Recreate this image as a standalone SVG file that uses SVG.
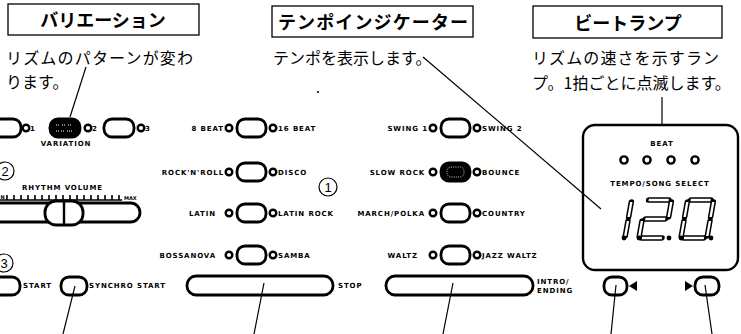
<svg xmlns="http://www.w3.org/2000/svg" width="741" height="334" viewBox="0 0 741 334">
<style>
.title{font-family:"Noto Sans CJK JP","Noto Sans",sans-serif;font-weight:700;font-size:18px;fill:#000}
.desc{font-family:"Noto Sans CJK JP","Noto Sans",sans-serif;font-size:16px;fill:#000}
.box{fill:#fff;stroke:#000;stroke-width:1.3}
.lb{font-family:"DejaVu Sans",sans-serif;font-weight:700;font-size:7px;letter-spacing:0.9px;fill:#000}
.tiny{font-family:"DejaVu Sans",sans-serif;font-weight:700;font-size:5px;fill:#000}
.pill{fill:#fff;stroke:#000;stroke-width:2.8}
.pillk{fill:#000;stroke:#000;stroke-width:2.8}
.led{fill:#fff;stroke:#000;stroke-width:2.4}
.lead{stroke:#000;stroke-width:1.2;fill:none}
.cnum{fill:#fff;stroke:#000;stroke-width:1.2}
.num{font-family:"Liberation Sans",sans-serif;font-size:13px;fill:#000}
.segB{fill:none;stroke:#000;stroke-width:5.5;stroke-linecap:round}
.segW{fill:none;stroke:#fff;stroke-width:2.4;stroke-linecap:butt}
</style>
<defs>
<path id="dig1" d="M26,4 L26,19 M26,23 L26,38"/>
<path id="dig2" d="M3,2 L23,2 M26,4 L26,19 M3,21 L23,21 M0,23 L0,38 M3,40 L23,40"/>
<path id="dig0" d="M3,2 L23,2 M26,4 L26,19 M26,23 L26,38 M3,40 L23,40 M0,23 L0,38 M0,4 L0,19"/>
</defs>
<rect width="741" height="334" fill="#fff"/>

<g id="hdr-variation">
<rect class="box" x="8" y="4" width="191" height="31"/>
<text class="title" x="103" y="27" text-anchor="middle">バリエーション</text>
<text class="desc" x="6" y="64" font-size="17" textLength="187">リズムのパターンが変わ</text>
<text class="desc" x="6" y="88" font-size="17">ります。</text>
</g>

<g id="hdr-tempo">
<rect class="box" x="272" y="6" width="201" height="31"/>
<text class="title" x="373" y="29" text-anchor="middle" font-size="19" textLength="190">テンポインジケーター</text>
<text class="desc" x="273" y="64" font-size="15.5">テンポを表示します。</text>
<circle cx="318" cy="92" r="1" fill="#000"/>
</g>

<g id="hdr-beat">
<rect class="box" x="533" y="6" width="189" height="32"/>
<text class="title" x="628" y="30" text-anchor="middle">ビートランプ</text>
<text class="desc" x="532" y="64" font-size="17" textLength="187">リズムの速さを示すラン</text>
<text class="desc" x="532" y="89" font-size="17">プ。1拍ごとに点滅します。</text>
</g>

<g id="variation">
<rect class="pill" x="-12" y="119" width="33" height="18" rx="8"/>
<circle class="led" cx="26" cy="128" r="3.3"/>
<text class="lb" x="30" y="131">1</text>
<rect class="pillk" x="50" y="119" width="30" height="18" rx="8"/>
<path d="M56,125 h4 M62,125 h4 M68,125 h3 M56,131 h3 M61,131 h4 M67,131 h5" stroke="#fff" stroke-width="1" stroke-dasharray="1 1"/>
<circle class="led" cx="88" cy="128" r="3.3"/>
<text class="lb" x="92" y="131">2</text>
<rect class="pill" x="104" y="119" width="30" height="18" rx="8"/>
<circle class="led" cx="141" cy="128" r="3.3"/>
<text class="lb" x="145" y="131">3</text>
<text class="lb" x="66" y="146" text-anchor="middle" letter-spacing="1.8">VARIATION</text>
</g>

<g id="volume">
<circle class="cnum" cx="5" cy="171" r="9"/>
<text class="num" x="5" y="176" text-anchor="middle">2</text>
<text class="lb" x="22" y="190" letter-spacing="2">RHYTHM VOLUME</text>
<text class="tiny" x="0.5" y="199">N</text>
<path d="M0,200 H122 M7,195v5 M14,195v5 M21,195v5 M28,195v5 M35,195v5 M42,195v5 M49,195v5 M56,195v5 M63,195v5 M70,195v5 M77,195v5 M84,195v5 M91,195v5 M98,195v5 M105,195v5 M112,195v5 M119,195v5" stroke="#000" stroke-width="1.6" fill="none"/>
<text class="tiny" x="124" y="200">MAX</text>
<rect class="pill" x="-20" y="203" width="160" height="19" rx="9.5"/>
<rect class="pill" x="45" y="201" width="38" height="24" rx="11"/>
<path d="M64,201 V225" stroke="#000" stroke-width="2.4"/>
</g>

<g id="rhythm-mid">
<text class="lb" x="224" y="131" text-anchor="end">8 BEAT</text>
<circle class="led" cx="229" cy="128" r="3.3"/>
<rect class="pill" x="237" y="119" width="29" height="18" rx="8"/>
<circle class="led" cx="273" cy="128" r="3.3"/>
<text class="lb" x="278" y="131">16 BEAT</text>

<text class="lb" x="224" y="175" text-anchor="end">ROCK'N'ROLL</text>
<circle class="led" cx="229" cy="172" r="3.3"/>
<rect class="pill" x="237" y="163" width="29" height="18" rx="8"/>
<circle class="led" cx="273" cy="172" r="3.3"/>
<text class="lb" x="278" y="175">DISCO</text>

<text class="lb" x="216" y="216" text-anchor="end">LATIN</text>
<circle class="led" cx="229" cy="213" r="3.3"/>
<rect class="pill" x="237" y="204" width="29" height="18" rx="8"/>
<circle class="led" cx="273" cy="213" r="3.3"/>
<text class="lb" x="278" y="216">LATIN ROCK</text>

<text class="lb" x="216" y="258" text-anchor="end">BOSSANOVA</text>
<circle class="led" cx="229" cy="255" r="3.3"/>
<rect class="pill" x="237" y="246" width="29" height="18" rx="8"/>
<circle class="led" cx="273" cy="255" r="3.3"/>
<text class="lb" x="278" y="258">SAMBA</text>

<circle class="cnum" cx="328" cy="187" r="9"/>
<text class="num" x="328" y="192" text-anchor="middle">1</text>
</g>

<g id="rhythm-right">
<text class="lb" x="428" y="131" text-anchor="end">SWING 1</text>
<circle class="led" cx="433" cy="128" r="3.3"/>
<rect class="pill" x="441" y="119" width="29" height="18" rx="8"/>
<circle class="led" cx="477" cy="128" r="3.3"/>
<text class="lb" x="482" y="131">SWING 2</text>

<text class="lb" x="425" y="175" text-anchor="end">SLOW ROCK</text>
<circle class="led" cx="433" cy="172" r="3.3"/>
<rect class="pillk" x="441" y="163" width="29" height="18" rx="8"/>
<rect x="447" y="167" width="17" height="10" rx="4" fill="none" stroke="#fff" stroke-width="0.8" stroke-dasharray="1 1.2"/>
<circle class="led" cx="477" cy="172" r="3.3"/>
<text class="lb" x="482" y="175">BOUNCE</text>

<text class="lb" x="425" y="216" text-anchor="end">MARCH/POLKA</text>
<circle class="led" cx="433" cy="213" r="3.3"/>
<rect class="pill" x="441" y="204" width="29" height="18" rx="8"/>
<circle class="led" cx="477" cy="213" r="3.3"/>
<text class="lb" x="482" y="216">COUNTRY</text>

<text class="lb" x="418" y="258" text-anchor="end">WALTZ</text>
<circle class="led" cx="433" cy="255" r="3.3"/>
<rect class="pill" x="441" y="246" width="29" height="18" rx="8"/>
<circle class="led" cx="477" cy="255" r="3.3"/>
<text class="lb" x="482" y="258">JAZZ WALTZ</text>
</g>

<g id="display">
<rect x="583" y="125" width="155" height="145" rx="12" fill="#fff" stroke="#000" stroke-width="2.4"/>
<text class="lb" x="662" y="146" text-anchor="middle">BEAT</text>
<circle class="led" cx="624" cy="160" r="3.6"/>
<circle class="led" cx="647" cy="160" r="3.6"/>
<circle class="led" cx="671" cy="160" r="3.6"/>
<circle class="led" cx="695" cy="160" r="3.6"/>
<text class="lb" x="660" y="186" text-anchor="middle" letter-spacing="0.6">TEMPO/SONG SELECT</text>
<g transform="translate(606,198) skewX(-10)">
<use href="#dig1" class="segB"/><use href="#dig1" class="segW"/>
</g>
<g transform="translate(646,198) skewX(-10)">
<use href="#dig2" class="segB"/><use href="#dig2" class="segW"/>
</g>
<g transform="translate(688,198) skewX(-10)">
<use href="#dig0" class="segB"/><use href="#dig0" class="segW"/>
</g>
<circle cx="624" cy="238" r="2.4" fill="#000"/>
<circle cx="639" cy="238" r="2.4" fill="#000"/>
<circle cx="669" cy="238" r="2.4" fill="#000"/>
<circle cx="681" cy="238" r="2.4" fill="#000"/>
<circle cx="711" cy="238" r="2.4" fill="#000"/>
</g>

<g id="controls">
<circle class="cnum" cx="4" cy="263" r="9"/>
<text class="num" x="4" y="268" text-anchor="middle">3</text>
<rect class="pill" x="-15" y="277" width="35" height="18" rx="8"/>
<text class="lb" x="23" y="288" letter-spacing="2">START</text>
<rect class="pill" x="61" y="277" width="26" height="18" rx="8"/>
<text class="lb" x="89" y="288" letter-spacing="0.2">SYNCHRO START</text>
<rect class="pill" x="187" y="276" width="146" height="19" rx="9"/>
<text class="lb" x="338" y="288">STOP</text>
<rect class="pill" x="386" y="276" width="147" height="19" rx="9"/>
<text class="lb" x="537" y="284" font-size="6" letter-spacing="0.3">INTRO/</text>
<text class="lb" x="537" y="293" font-size="6" letter-spacing="0.3">ENDING</text>
<rect class="pill" x="604" y="277" width="23" height="18" rx="8"/>
<polygon points="637,281 637,291 629,286" fill="#000"/>
<polygon points="685,281 685,291 693,286" fill="#000"/>
<rect class="pill" x="695" y="277" width="24" height="18" rx="8"/>
</g>

<g id="connectors">
<line class="lead" x1="86" y1="67" x2="70" y2="117"/>
<line class="lead" x1="423" y1="57" x2="601" y2="209"/>
<line class="lead" x1="662" y1="97" x2="662" y2="125"/>
<line class="lead" x1="75" y1="286" x2="63" y2="334"/>
<line class="lead" x1="264" y1="283" x2="254" y2="334"/>
<line class="lead" x1="453" y1="283" x2="443" y2="334"/>
<line class="lead" x1="616" y1="285" x2="611" y2="334"/>
<line class="lead" x1="705" y1="285" x2="712" y2="334"/>
</g>
</svg>
